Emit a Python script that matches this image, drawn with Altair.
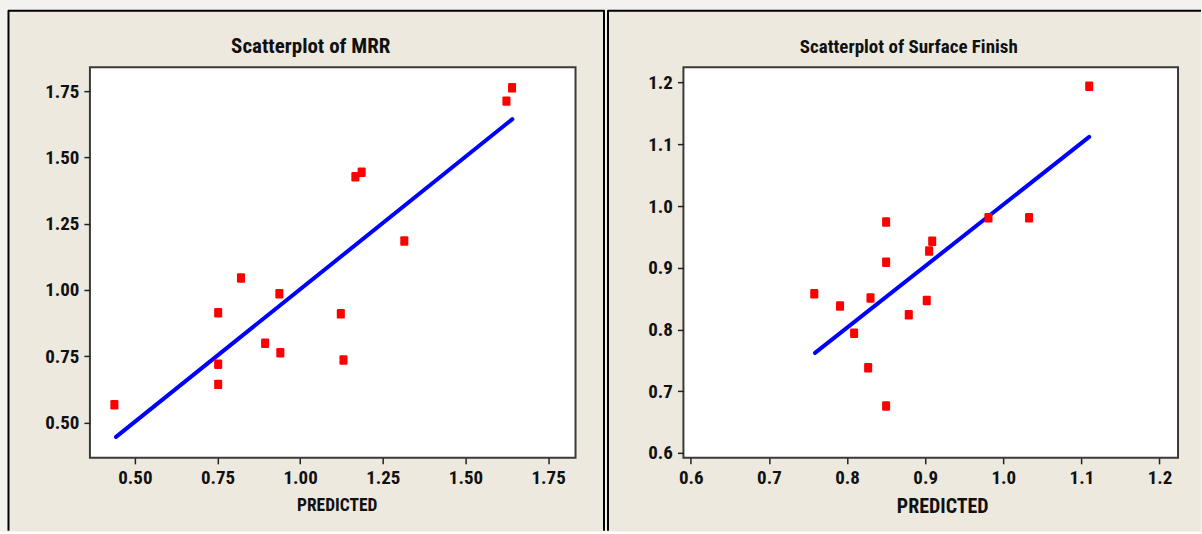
import altair as alt
import pandas as pd

# ---- data ----
mrr_pred = [0.438, 0.752, 0.752, 0.752, 0.821, 0.894, 0.937, 0.940, 1.123, 1.131, 1.167, 1.186, 1.315, 1.624, 1.641]
mrr_actual = [0.567, 0.914, 0.720, 0.644, 1.045, 0.799, 0.986, 0.763, 0.910, 0.736, 1.427, 1.444, 1.185, 1.712, 1.762]
mrr_fit_x = [0.443, 1.642]
mrr_fit_y = [0.446, 1.644]

sf_pred = [0.758, 0.791, 0.809, 0.827, 0.830, 0.850, 0.850, 0.850, 0.879, 0.902, 0.905, 0.909, 0.981, 1.033, 1.110]
sf_actual = [0.858, 0.838, 0.794, 0.738, 0.851, 0.974, 0.909, 0.676, 0.824, 0.847, 0.927, 0.943, 0.981, 0.981, 1.194]
sf_fit_x = [0.759, 1.110]
sf_fit_y = [0.762, 1.112]

mrr_ticks = [0.50, 0.75, 1.00, 1.25, 1.50, 1.75]
sf_ticks = [0.6, 0.7, 0.8, 0.9, 1.0, 1.1, 1.2]

titles = ["Scatterplot of MRR", "Scatterplot of Surface Finish"]
x_title = "PREDICTED"

# ---- styling ----
FONT = "Roboto Condensed, Liberation Sans Narrow, Arial Narrow, DejaVu Sans Condensed, sans-serif"
BEIGE = "#EDE9DF"
OUTER = "#F4F2EE"
RED = "#FF0000"
BLUE = "#0000FF"
H = 391
SHAPE = "M-0.6,-1 L0.6,-1 Q0.85,-1 0.85,-0.75 L0.85,0.75 Q0.85,1 0.6,1 L-0.6,1 Q-0.85,1 -0.85,0.75 L-0.85,-0.75 Q-0.85,-1 -0.6,-1 Z"

one = alt.Data(values=[{"k": 1}])


def panel(pred, actual, fx, fy, ticks, fmt, xdom, ydom, W, title, title_size, px0, px1,
          right_border, xt_size, title_x):
    pts = pd.DataFrame({"pred": pred, "actual": actual})
    fit = pd.DataFrame({"pred": fx, "actual": fy})

    bg = alt.Chart(one).mark_rect(fill=BEIGE).encode(
        x=alt.value(px0), x2=alt.value(px1), y=alt.value(-56), y2=alt.value(464))
    top = alt.Chart(one).mark_rule(color="black", strokeWidth=2).encode(
        x=alt.value(px0 - 1), x2=alt.value(px1), y=alt.value(-56.5))
    left = alt.Chart(one).mark_rule(color="black", strokeWidth=2).encode(
        x=alt.value(px0 - 0.5), y=alt.value(-57), y2=alt.value(464))
    layers = [bg, top, left]
    if right_border:
        layers.append(alt.Chart(one).mark_rule(color="black", strokeWidth=2).encode(
            x=alt.value(px1 - 0.5), y=alt.value(-57), y2=alt.value(464)))
    plot_bg = alt.Chart(one).mark_rect(fill="white", stroke="#3a3a3a", strokeWidth=2).encode(
        x=alt.value(0), x2=alt.value(W), y=alt.value(0), y2=alt.value(H))
    ttl = alt.Chart(one).mark_text(font=FONT, fontSize=title_size, fontWeight="bold", color="#111",
                                   baseline="alphabetic", align="center").encode(
        x=alt.value(W / 2 - 22), y=alt.value(-14), text=alt.value(title))
    layers += [plot_bg, ttl]

    xs = alt.Scale(domain=xdom, nice=False, zero=False)
    ys = alt.Scale(domain=ydom, nice=False, zero=False)
    xax = alt.Axis(values=ticks, format=fmt, title=x_title, titleFontSize=xt_size,
                   titleX=title_x, titlePadding=9, zindex=2)
    yax = alt.Axis(values=ticks, format=fmt, title=None, zindex=2)

    line = alt.Chart(fit).mark_line(color=BLUE, strokeWidth=4, strokeCap="round").encode(
        x=alt.X("pred:Q", scale=xs, axis=xax),
        y=alt.Y("actual:Q", scale=ys, axis=yax),
    )
    points = alt.Chart(pts).mark_point(shape=SHAPE, filled=True, color=RED, opacity=1, size=90).encode(
        x=alt.X("pred:Q", scale=xs, axis=xax),
        y=alt.Y("actual:Q", scale=ys, axis=yax),
    )
    layers += [line, points]
    return alt.layer(*layers).properties(width=W, height=H)


left_chart = panel(mrr_pred, mrr_actual, mrr_fit_x, mrr_fit_y, mrr_ticks, ".2f",
                   [0.364, 1.833], [0.367, 1.84], 486, titles[0], 21, -81, 515, True, 17.5, 247)
right_chart = panel(sf_pred, sf_actual, sf_fit_x, sf_fit_y, sf_ticks, ".1f",
                    [0.5905, 1.2237], [0.592, 1.225], 495, titles[1], 19, -75, 518, False, 20, 259)

chart = alt.hconcat(left_chart, right_chart, spacing=108, bounds="flush").properties(
    background=OUTER,
    padding={"left": 7, "top": 9, "right": 0, "bottom": 0},
).configure_view(stroke=None).configure_axis(
    labelFont=FONT, labelFontSize=19, labelFontWeight="bold", labelColor="#111",
    titleFont=FONT, titleFontWeight="bold", titleColor="#111",
    tickColor="#222", tickSize=6, tickWidth=1.5, labelPadding=5,
    domain=False, grid=False,
)

chart.save("out.html", embed_options={"renderer": "svg", "actions": False})
